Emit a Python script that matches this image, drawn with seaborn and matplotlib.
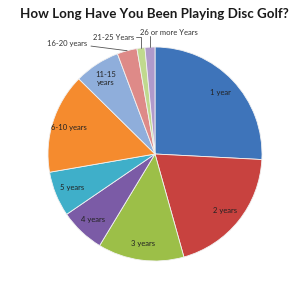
import matplotlib
matplotlib.use("Agg")
import matplotlib.pyplot as plt
import seaborn as sns
import numpy as np

categories = ["1 year", "2 years", "3 years", "4 years", "5 years", "6-10 years",
              "11-15\nyears", "16-20 years", "21-25 Years", "26 or more Years"]
values = [25.8, 19.8, 13.0, 6.8, 6.8, 15.1, 6.9, 3.0, 1.2, 1.5]
colors = ["#3E74BA", "#C8423F", "#9CBF48", "#7B5BA6", "#3FAFC9", "#F58B2E",
          "#8FAEDB", "#DE8A88", "#C0D98E", "#B09ACB"]
title = "How Long Have You Been Playing Disc Golf?"

sns.set_theme(style="white")
plt.rcParams['font.family'] = ['Lato', 'DejaVu Sans']

fig = plt.figure(figsize=(3.0, 2.82), dpi=100)
fig.patch.set_facecolor("white")

cx, cy, r = 155, 154, 107
W, H = 300, 282
ax = fig.add_axes([(cx - r) / W, (H - cy - r) / H, 2 * r / W, 2 * r / H])

inner_labels = [c if i < 7 else "" for i, c in enumerate(categories)]
wedges, texts = ax.pie(values, colors=colors, startangle=90, counterclock=False,
                       labels=inner_labels, labeldistance=0.84,
                       wedgeprops=dict(edgecolor="#f2f2f2", linewidth=0.6),
                       textprops=dict(fontsize=5.5, color="#222222"))
for t in texts:
    t.set_ha("center")
    t.set_va("center")
    t.set_linespacing(1.1)
ax.set_xlim(-1, 1)
ax.set_ylim(-1, 1)
ax.set_aspect("equal")
ax.axis("off")

def edge_point(w, rr=1.0):
    th = np.deg2rad((w.theta1 + w.theta2) / 2)
    return rr * np.cos(th), rr * np.sin(th)

def px(x, y):
    return (x - cx) / r, (cy - y) / r

# 16-20 years
ex, ey = edge_point(wedges[7], 1.0)
tx, ty = px(87, 43)
ax.annotate(categories[7], xy=(ex, ey), xytext=(tx, ty), ha="right", va="center",
            fontsize=5.5, color="#333333", annotation_clip=False,
            arrowprops=dict(arrowstyle="-", color="#555555", lw=0.6,
                            shrinkA=0.5, shrinkB=0))
# 21-25 Years
ex, ey = edge_point(wedges[8], 1.0)
tx, ty = px(134, 37)
ax.text(tx, ty, categories[8], ha="right", va="center", fontsize=5.5, color="#333333")
ax.plot([tx + 0.02, ex, ex], [ty, ty, ey], color="#555555", lw=0.6, clip_on=False)
# 26 or more Years
ex, ey = edge_point(wedges[9], 1.0)
tx, ty = px(140, 32)
ax.text(tx, ty, categories[9], ha="left", va="center", fontsize=5.5, color="#333333")
ax.plot([ex, ex], [ty - 0.04, ey], color="#555555", lw=0.6, clip_on=False)

fig.text(154 / W, 1 - 14 / H, title, ha="center", va="center",
         fontsize=9.6, fontweight="bold", color="#1a1a1a")

fig.savefig("out.png", dpi=100, facecolor="white")
